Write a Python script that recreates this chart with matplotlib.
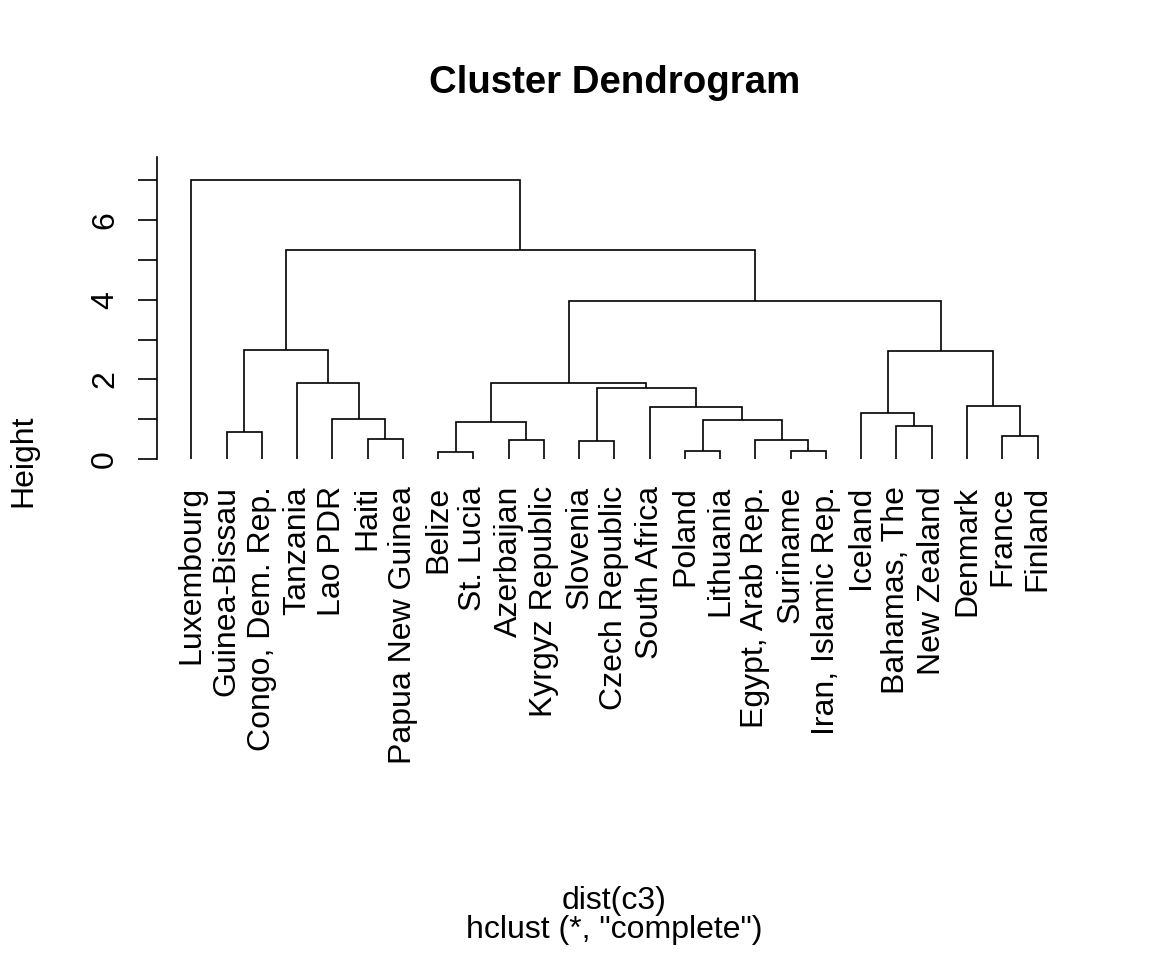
import matplotlib
matplotlib.use("Agg")
import matplotlib.pyplot as plt

plt.rcParams['font.family'] = ['Liberation Sans', 'DejaVu Sans']

# Leaf labels in dendrogram order (left to right)
labels = ["Luxembourg", "Guinea-Bissau", "Congo, Dem. Rep.", "Tanzania", "Lao PDR",
          "Haiti", "Papua New Guinea", "Belize", "St. Lucia", "Azerbaijan",
          "Kyrgyz Republic", "Slovenia", "Czech Republic", "South Africa", "Poland",
          "Lithuania", "Egypt, Arab Rep.", "Suriname", "Iran, Islamic Rep.", "Iceland",
          "Bahamas, The", "New Zealand", "Denmark", "France", "Finland"]

# hclust-style merge table: negative = leaf (1-based), positive = earlier merge step
merge_left = [-8, -18, -15, -12, -17, -10, -6, -24, -2, -21, 1, 3, -5, -20, -14,
              -23, 4, 11, -4, 9, 14, 18, 20, -1]
merge_right = [-9, -19, -16, -13, 2, -11, -7, -25, -3, -22, 6, 5, 7, 10, 12,
               8, 15, 17, 13, 19, 16, 21, 22, 23]
merge_height = [0.17, 0.19, 0.21, 0.44, 0.48, 0.48, 0.50, 0.57, 0.67, 0.83, 0.92,
                0.97, 1.00, 1.16, 1.30, 1.32, 1.79, 1.90, 1.92, 2.74, 2.72, 3.97,
                5.24, 7.00]

yticks = [0, 1, 2, 3, 4, 5, 6, 7]
ytick_labels = ["0", "", "2", "", "4", "", "6", ""]

W, H = 1152, 960
fig = plt.figure(figsize=(W / 100, H / 100), dpi=100)
left, right, top, bottom = 157.4, 1071.4, 157.4, 764.2
ax = fig.add_axes([left / W, 1 - bottom / H, (right - left) / W, (bottom - top) / H])

n = len(labels)
xs = list(range(1, n + 1))
lw = 1.2

node_x = {}
node_h = {}


def child_pos(c):
    if c < 0:
        return xs[-c - 1], 0.0
    return node_x[c], node_h[c]


for i, (a, b, h) in enumerate(zip(merge_left, merge_right, merge_height), start=1):
    xa, ha = child_pos(a)
    xb, hb = child_pos(b)
    ax.plot([xa, xa, xb, xb], [ha, h, h, hb], color="black", lw=lw,
            solid_joinstyle="miter", solid_capstyle="butt")
    node_x[i] = (xa + xb) / 2
    node_h[i] = h

for x, lab in zip(xs, labels):
    ax.annotate(lab, (x, 0), xytext=(0, -27), textcoords="offset pixels",
                rotation=90, ha="center", va="top", fontsize=23)

ax.set_xlim(1 - 0.04 * (n - 1), n + 0.04 * (n - 1))
y0px = 459.0
upx = 39.83
ax.set_ylim((y0px - bottom) / upx, (y0px - top) / upx)

for s in ["top", "right", "bottom"]:
    ax.spines[s].set_visible(False)
ax.spines["left"].set_bounds(0, (y0px - top) / upx)
ax.spines["left"].set_linewidth(lw)
ax.set_xticks([])
ax.set_yticks(yticks)
ax.set_yticklabels(ytick_labels, rotation=90, va="center", fontsize=23)
ax.tick_params(axis="y", length=13.8, width=lw, pad=13)

fig.text(614.4 / W, 1 - 93 / H, "Cluster Dendrogram", ha="center", va="baseline",
         fontsize=27.6, fontweight="bold")
fig.text(614.4 / W, 1 - 909 / H, "dist(c3)", ha="center", va="baseline", fontsize=23)
fig.text(614.4 / W, 1 - 938 / H, 'hclust (*, "complete")', ha="center",
         va="baseline", fontsize=23)
fig.text(23 / W, 1 - 460.8 / H, "Height", ha="center", va="center", rotation=90,
         fontsize=23)

fig.savefig("out.png", dpi=100)
